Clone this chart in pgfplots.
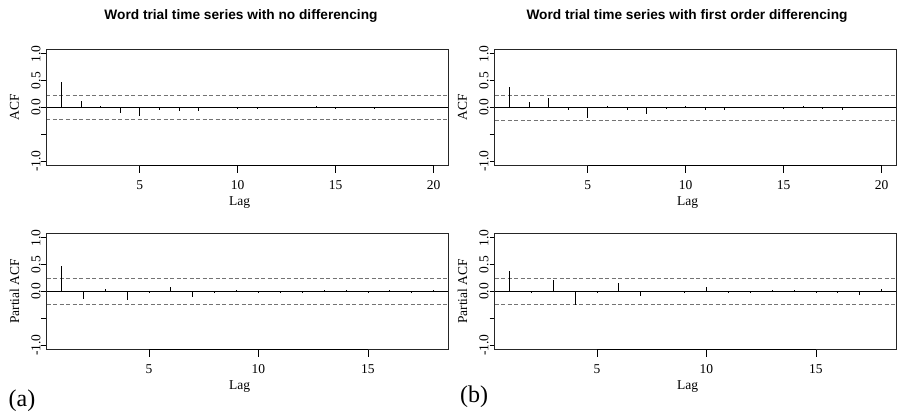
\documentclass[border=0pt]{standalone}
\usepackage{fontspec}
\setmainfont{Liberation Serif}
\newfontfamily\titlefont{Liberation Sans}
\usepackage{pgfplots}
\pgfplotsset{compat=1.18}

% Correlogram values, one table per panel
\pgfplotstableread{
lag  r
1    0.477
2    0.12
3    0.03
4   -0.10
5   -0.15
6   -0.04
7   -0.07
8   -0.07
9    0.01
10  -0.01
11  -0.01
12   0.01
13   0.01
14   0.03
15  -0.01
16   0.01
17  -0.01
18   0.01
19   0.00
20   0.00
}\acfA
\pgfplotstableread{
lag  r
1    0.39
2    0.10
3    0.18
4   -0.055
5   -0.195
6    0.02
7   -0.04
8   -0.12
9   -0.01
10   0.02
11  -0.04
12  -0.04
13   0.01
14   0.01
15  -0.02
16   0.02
17  -0.02
18  -0.04
19   0.00
20   0.00
}\acfB
\pgfplotstableread{
lag  r
1    0.477
2   -0.14
3    0.04
4   -0.16
5   -0.02
6    0.09
7   -0.11
8   -0.01
9    0.02
10  -0.01
11  -0.02
12  -0.01
13   0.02
14   0.02
15  -0.02
16   0.02
17  -0.01
18   0.03
}\pacfA
\pgfplotstableread{
lag  r
1    0.39
2   -0.03
3    0.21
4   -0.25
5   -0.03
6    0.15
7   -0.09
8    0.00
9   -0.01
10   0.087
11  -0.03
12  -0.03
13   0.02
14   0.03
15  -0.015
16  -0.01
17  -0.06
18   0.04
}\pacfB

\newcommand{\tickfont}{\fontsize{13.5}{16}\selectfont}

\tikzset{
  frame/.style={draw=black!85, line width=1pt},
  baseaxis/.style={draw=black, line width=1pt},
}

\pgfplotsset{
  corr/.style={
    scale only axis, width=402pt, height=116pt,
    ymin=-1.08, ymax=1.08,
    axis lines=box,
    axis line style={draw=black!85, line width=1pt},
    tick style={draw=black, line width=0.8pt},
    tick align=outside,
    xtick pos=lower, ytick pos=left,
    xtick style={/pgfplots/major tick length=7pt},
    ytick style={/pgfplots/major tick length=5pt},
    ytick={-1,-0.5,0,0.5,1},
    yticklabels={-1.0,,0.0,0.5,1.0},
    xticklabel style={font=\tickfont, anchor=north, inner sep=0pt, yshift=-11pt},
    yticklabel style={font=\tickfont, rotate=90, anchor=south, inner sep=0pt, yshift=1.5pt},
    label style={font=\tickfont},
    ylabel style={at={(rel axis cs:0,0.5)}, anchor=center, rotate=0, yshift=32pt},
    xlabel={Lag},
    xlabel style={at={(rel axis cs:0.5,0)}, anchor=center, yshift=-37pt, xshift=-8pt},
    clip=false,
  },
  acfaxis/.style={corr, xmin=0.24, xmax=20.76,
    xtick={5,10,15,20}, xticklabels={5,10,15,20}, ylabel={ACF}},
  pacfaxis/.style={corr, xmin=0.32, xmax=18.68,
    xtick={5,10,15}, xticklabels={5,10,15}, ylabel={Partial ACF}},
  spike/.style={ycomb, black, line width=0.8pt, mark=none},
  zeroline/.style={black, line width=0.8pt},
  band/.style={black!55, line width=0.8pt, dash pattern=on 4pt off 2.5pt},
}

\begin{document}
\begin{tikzpicture}
\useasboundingbox (0,0) rectangle (902pt,-417pt);

\node[font=\titlefont\bfseries\fontsize{13.7}{16}\selectfont] at (241pt,-16pt)
  {Word trial time series with no differencing};
\node[font=\titlefont\bfseries\fontsize{13.7}{16}\selectfont] at (687pt,-16pt)
  {Word trial time series with first order differencing};

% (a) top: ACF, no differencing
\begin{axis}[acfaxis, at={(46.5pt,-165.5pt)}, anchor=south west]
  \addplot[zeroline] coordinates {(0.24,0) (20.76,0)};
  \addplot[band] coordinates {(0.24,0.23) (20.76,0.23)};
  \addplot[band] coordinates {(0.24,-0.23) (20.76,-0.23)};
  \addplot[spike] table[x=lag, y=r] {\acfA};
  \draw[frame] (rel axis cs:0,0) rectangle (rel axis cs:1,1);
  \draw[baseaxis] (axis cs:5,-1.08) -- (axis cs:20,-1.08);
\end{axis}

% (b) top: ACF, first differences
\begin{axis}[acfaxis, at={(494.5pt,-165.5pt)}, anchor=south west]
  \addplot[zeroline] coordinates {(0.24,0) (20.76,0)};
  \addplot[band] coordinates {(0.24,0.232) (20.76,0.232)};
  \addplot[band] coordinates {(0.24,-0.232) (20.76,-0.232)};
  \addplot[spike] table[x=lag, y=r] {\acfB};
  \draw[frame] (rel axis cs:0,0) rectangle (rel axis cs:1,1);
  \draw[baseaxis] (axis cs:5,-1.08) -- (axis cs:20,-1.08);
\end{axis}

% (a) bottom: PACF, no differencing
\begin{axis}[pacfaxis, at={(46.5pt,-349.5pt)}, anchor=south west]
  \addplot[zeroline] coordinates {(0.32,0) (18.68,0)};
  \addplot[band] coordinates {(0.32,0.235) (18.68,0.235)};
  \addplot[band] coordinates {(0.32,-0.235) (18.68,-0.235)};
  \addplot[spike] table[x=lag, y=r] {\pacfA};
  \draw[frame] (rel axis cs:0,0) rectangle (rel axis cs:1,1);
  \draw[baseaxis] (axis cs:5,-1.08) -- (axis cs:15,-1.08);
\end{axis}

% (b) bottom: PACF, first differences
\begin{axis}[pacfaxis, at={(494.5pt,-349.5pt)}, anchor=south west]
  \addplot[zeroline] coordinates {(0.32,0) (18.68,0)};
  \addplot[band] coordinates {(0.32,0.235) (18.68,0.235)};
  \addplot[band] coordinates {(0.32,-0.235) (18.68,-0.235)};
  \addplot[spike] table[x=lag, y=r] {\pacfB};
  \draw[frame] (rel axis cs:0,0) rectangle (rel axis cs:1,1);
  \draw[baseaxis] (axis cs:5,-1.08) -- (axis cs:15,-1.08);
\end{axis}

\node[font=\fontsize{24}{28}\selectfont] at (22pt,-401pt) {(a)};
\node[font=\fontsize{24}{28}\selectfont] at (474pt,-397pt) {(b)};
\end{tikzpicture}
\end{document}
